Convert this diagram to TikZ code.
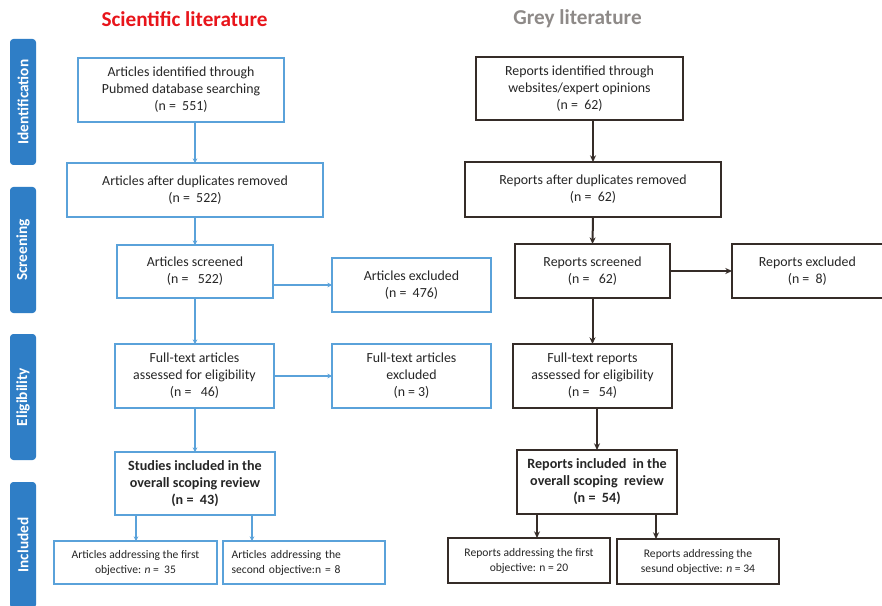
\documentclass[tikz,border=0pt]{standalone}
\usepackage{fontspec}
\setmainfont{Carlito}
\usetikzlibrary{arrows.meta,calc}
\definecolor{tabblue}{HTML}{2F7EC6}
\definecolor{boxblue}{HTML}{5AA2DA}
\definecolor{boxdark}{HTML}{352C28}
\definecolor{titlered}{HTML}{E8151B}
\definecolor{titlegrey}{HTML}{8E8A88}
\begin{document}
\begin{tikzpicture}[x=0.75pt,y=-0.75pt,
  every node/.style={inner sep=0pt,outer sep=0pt},
  bluebox/.style={draw=boxblue,line width=1.1pt,fill=white,align=center,font=\fontsize{10.4}{12.75}\selectfont,text=black!85},
  darkbox/.style={draw=boxdark,line width=1.6pt,fill=white,align=center,font=\fontsize{10.4}{12.75}\selectfont,text=black!85},
  boldfont/.style={font=\bfseries\fontsize{10.6}{12.75}\selectfont},
  smallfont/.style={font=\fontsize{8.7}{11.25}\selectfont},
  tabnode/.style={fill=tabblue,rounded corners=2.5pt,minimum width=19.5pt,minimum height=94.5pt},
  tablabel/.style={text=white,font=\bfseries\fontsize{11.5}{13}\selectfont,rotate=90},
  bluearr/.style={draw=boxblue,line width=0.9pt,-{Stealth[length=3.5pt,width=3.5pt]}},
  darkarr/.style={draw=boxdark,line width=1.5pt,-{Stealth[length=5pt,width=4.5pt]}}
]
\useasboundingbox (0,0) rectangle (882,606);
\fill[white] (0,0) rectangle (882,606);

% titles
\node[text=titlered,font=\bfseries\fontsize{15.9}{18}\selectfont] (t1) at (184.5,19) {Scientific literature};
\node[text=titlegrey,font=\bfseries\fontsize{15.9}{18}\selectfont] (t2) at (577.5,19) {Grey literature};

% side tabs
\node[tabnode] (tab1) at (23,102) {};
\node[tablabel] (l1) at (tab1.center) {Identification};
\node[tabnode] (tab2) at (23,250) {};
\node[tablabel] (l2) at (tab2.center) {Screening};
\node[tabnode] (tab3) at (23,397) {};
\node[tablabel] (l3) at (tab3.center) {Eligibility};
\node[tabnode] (tab4) at (23,545) {};
\node[tablabel] (l4) at (tab4.center) {Included};

% scientific literature boxes
\node[bluebox,minimum width=154.5pt,minimum height=48pt] (a1) at (181,90)
  {Articles identified through\\Pubmed database searching\\(n =\ \ 551)};
\node[bluebox,minimum width=192pt,minimum height=40.5pt] (a2) at (195,190)
  {Articles after duplicates removed\\(n =\ \ 522)};
\node[bluebox,minimum width=117pt,minimum height=39.75pt] (a3) at (195,271.5)
  {Articles screened\\(n =\ \ \ 522)};
\node[bluebox,minimum width=119.25pt,minimum height=40.5pt] (a4) at (411.5,285)
  {Articles excluded\\(n =\ \ 476)};
\node[bluebox,minimum width=119.25pt,minimum height=48pt] (a5) at (194.5,376)
  {Full-text articles\\assessed for eligibility\\(n =\ \ \ 46)};
\node[bluebox,minimum width=119.25pt,minimum height=48pt] (a6) at (411.5,376)
  {Full-text articles\\excluded\\(n =\ 3)};
\node[bluebox,boldfont,minimum width=120pt,minimum height=47.25pt] (a7) at (195,483.5)
  {Studies included in the\\overall scoping review\\(n =\ \ 43)};
\node[bluebox,smallfont,minimum width=122.25pt,minimum height=32.25pt] (a8) at (135.5,562.5)
  {Articles addressing the first\\objective: \textit{n} =\ \ 35};
\node[bluebox,smallfont,minimum height=32.25pt,inner xsep=6.5pt,text width=108.5pt,align=left] (a9) at (304,562.5)
  {Articles addressing the\\second objective:n = 8};

% grey literature boxes
\node[darkbox,minimum width=155.25pt,minimum height=47.25pt] (r1) at (579.5,88.5)
  {Reports identified through\\websites/expert opinions\\(n =\ \ 62)};
\node[darkbox,minimum width=192pt,minimum height=41.25pt] (r2) at (593,189.5)
  {Reports after duplicates removed\\(n =\ \ 62)};
\node[darkbox,minimum width=116.25pt,minimum height=40.5pt] (r3) at (592.5,271)
  {Reports screened\\(n =\ \ \ 62)};
\node[darkbox,minimum width=113pt,minimum height=40.5pt,anchor=west] (r4) at (732,271)
  {Reports excluded\\(n =\ \ 8)};
\node[darkbox,minimum width=119.25pt,minimum height=48pt] (r5) at (592.5,376)
  {Full-text reports\\assessed for eligibility\\(n =\ \ \ 54)};
\node[darkbox,boldfont,minimum width=120pt,minimum height=48pt] (r6) at (597,482)
  {Reports included\ \ in the\\overall scoping\ \ review\\(n =\ \ 54)};
\node[darkbox,smallfont,minimum width=121.5pt,minimum height=33.75pt] (r7) at (529,560.5)
  {Reports addressing the first\\objective: n = 20};
\node[darkbox,smallfont,minimum width=121.5pt,minimum height=33.75pt] (r8) at (698,561.5)
  {Reports addressing the\\sesund objective: \textit{n} = 34};

% connectors: scientific
\draw[bluearr] (a1.south -| a2.north) -- (a2.north);
\draw[bluearr] (a2.south) -- (a3.north);
\draw[bluearr] (a3.south) -- (a5.north -| a3.south);
\draw[bluearr] (a3.east |- a4.west) -- (a4.west);
\draw[bluearr] (a5.east) -- (a6.west);
\draw[bluearr] (a5.south -| a7.north) -- (a7.north);
\draw[bluearr] ([xshift=-44.25pt]a7.south) -- ([xshift=-44.25pt]a7.south |- a8.north);
\draw[bluearr] ([xshift=42.75pt]a7.south) -- ([xshift=42.75pt]a7.south |- a9.north);

% connectors: grey
\draw[darkarr] (r1.south -| r2.north) -- (r2.north);
\draw[darkarr] (r2.south) -- (r3.north);
\draw[darkarr] (r3.south) -- (r5.north -| r3.south);
\draw[darkarr] (r3.east) -- (r4.west);
\draw[darkarr] (r5.south -| r6.north) -- (r6.north);
\draw[darkarr] ([xshift=-45pt]r6.south) -- ([xshift=-45pt]r6.south |- r7.north);
\draw[darkarr] ([xshift=44.25pt]r6.south) -- ([xshift=44.25pt]r6.south |- r8.north);
\end{tikzpicture}
\end{document}
